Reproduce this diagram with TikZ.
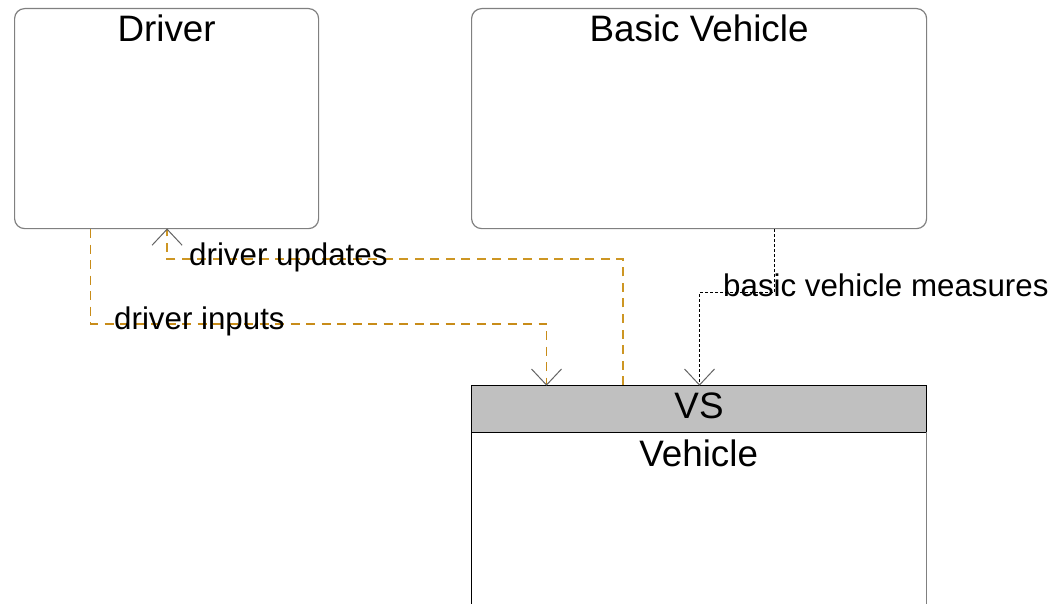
\documentclass[tikz,border=0pt]{standalone}
\usepackage{fontspec}
\setmainfont{Liberation Sans}
\usetikzlibrary{arrows.meta}
\definecolor{boxgray}{RGB}{128,128,128}
\definecolor{hdrgray}{RGB}{192,192,192}
\definecolor{tipgray}{RGB}{100,100,100}
\definecolor{flowA}{RGB}{200,140,25}
\definecolor{flowB}{RGB}{205,150,35}
\begin{document}
\begin{tikzpicture}[x=1bp,y=-1bp,
  block/.style={draw=boxgray, line width=1.2bp, rounded corners=10bp, minimum height=220bp, inner sep=0bp, anchor=north west},
  header/.style={draw=black, fill=hdrgray, line width=1bp, minimum height=47bp, inner sep=0bp, anchor=north west},
  body/.style={minimum height=200bp, inner sep=0bp, anchor=north west},
  title/.style={font=\fontsize{36.8bp}{40bp}\selectfont, inner sep=0bp, anchor=base},
  lbl/.style={font=\fontsize{31.3bp}{34bp}\selectfont, inner sep=0bp, anchor=base west},
  vtip/.style={draw=tipgray, line width=1bp},
  inflow/.style={draw=flowA, line width=1.8bp, dash pattern=on 9bp off 6.5bp},
  upflow/.style={draw=flowB, line width=1.8bp, dash pattern=on 9bp off 6.5bp},
  measflow/.style={draw=black, line width=0.9bp, dash pattern=on 3bp off 2bp}
]
\useasboundingbox (0,0) rectangle (1055,604);
\fill[white] (0,0) rectangle (1055,604);
% boxes
\node[block, minimum width=304bp] (driver) at (14,8) {};
\node[title] (driverT) at ([yshift=-34bp]driver.north) {Driver};
\node[block, minimum width=455bp] (basic) at (471,8) {};
\node[title] (basicT) at ([yshift=-34bp]basic.north) {Basic Vehicle};
\node[header, minimum width=455bp] (vs) at (471,385) {};
\node[title] (vsT) at ([yshift=-33bp]vs.north) {VS};
\node[body, minimum width=455bp] (vehicle) at (471,432) {};
\node[title] (vehicleT) at ([yshift=-34bp]vehicle.north) {Vehicle};
\draw[black, line width=1bp] (vehicle.north west) -- (vehicle.south west);
\draw[boxgray, line width=1.2bp] (vehicle.north east) -- (vehicle.south east);
% connector end points
\coordinate (inA) at ([xshift=76.5bp]driver.south west);
\coordinate (inB) at ([xshift=75.5bp]vs.north west);
\coordinate (upA) at ([xshift=152bp]vs.north west);
\coordinate (upB) at ([xshift=0.5bp]driver.south);
\coordinate (msA) at ([xshift=75.5bp]basic.south);
\coordinate (msB) at ([xshift=0.5bp]vs.north);
% connectors
\draw[inflow] (inA) -- ++(0,94.5) -| (inB);
\draw[upflow] (upA) -- ++(0,-126) -| (upB);
\draw[measflow] (msA) -- ++(0,63.5) -| (msB);
% arrowheads
\draw[vtip] ([shift={(-15,-16)}]inB) -- (inB) -- ([shift={(15,-16)}]inB);
\draw[vtip] ([shift={(-15,-16)}]msB) -- (msB) -- ([shift={(15,-16)}]msB);
\draw[vtip] ([shift={(-15,16)}]upB) -- (upB) -- ([shift={(15,16)}]upB);
% labels
\node[lbl] (lupd) at (189,266) {driver updates};
\node[lbl] (linp) at (114,329) {driver inputs};
\node[lbl] (lmeas) at (723,297) {basic vehicle measures};
\end{tikzpicture}
\end{document}
